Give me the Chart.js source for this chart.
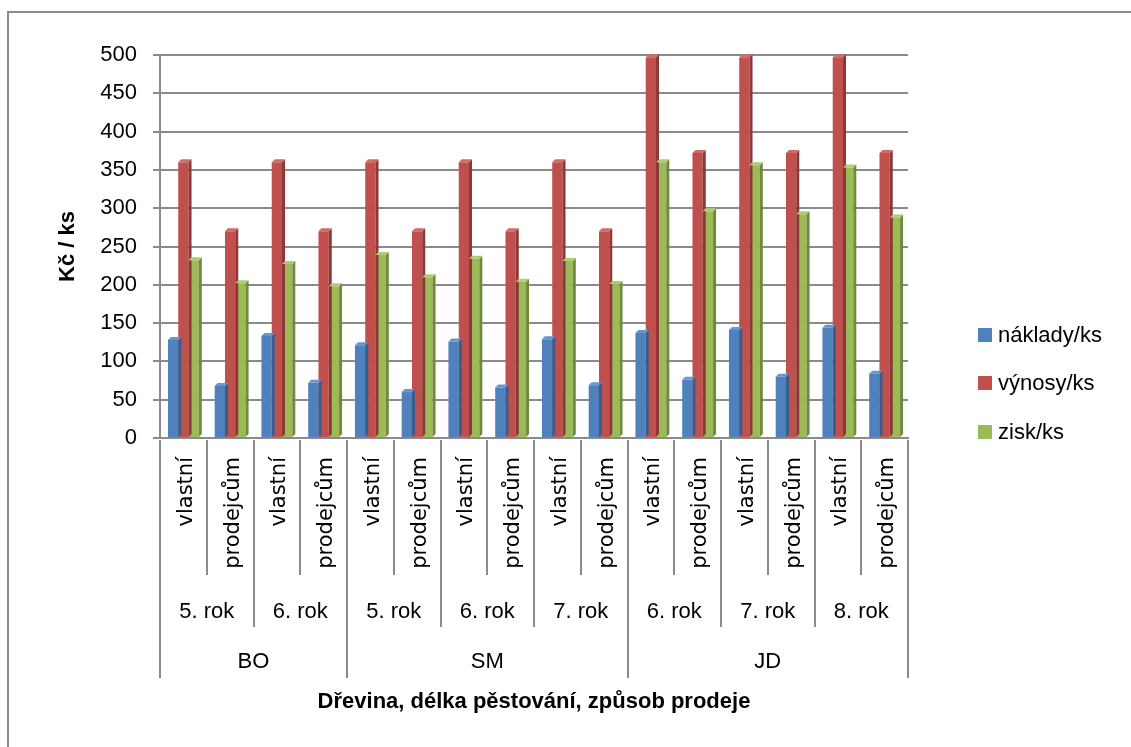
<!DOCTYPE html>
<html>
<head>
<meta charset="utf-8">
<script src="https://cdn.jsdelivr.net/npm/chart.js@4/dist/chart.umd.min.js"></script>
<style>
  html, body { margin: 0; padding: 0; background: #fff; overflow: hidden; }
  #wrap { position: relative; width: 1131px; height: 747px; }
  #frame { position: absolute; left: 7px; top: 11px; width: 1300px; height: 900px; border: 2px solid #8a8a8a; }
  canvas { position: absolute; left: 0; top: 0; }
</style>
</head>
<body>
<div id="wrap">
  <div id="frame"></div>
  <canvas id="chart" width="1131" height="747"></canvas>
</div>
<script>
const methods = ["vlastní","prodejcům","vlastní","prodejcům","vlastní","prodejcům","vlastní","prodejcům",
                 "vlastní","prodejcům","vlastní","prodejcům","vlastní","prodejcům","vlastní","prodejcům"];
const years = ["5. rok","6. rok","5. rok","6. rok","7. rok","6. rok","7. rok","8. rok"];
const species = ["BO","SM","JD"];
const speciesSpan = [4, 6, 6];

const naklady = [128, 68, 133, 72, 121, 60, 126, 66, 129, 69, 137, 76, 141, 80, 144, 84];
const vynosy  = [360, 270, 360, 270, 360, 270, 360, 270, 360, 270, 497, 372, 497, 372, 497, 372];
const zisk    = [232, 202, 227, 198, 239, 210, 234, 204, 231, 201, 360, 296, 356, 292, 353, 288];

const seriesNames = ["náklady/ks", "výnosy/ks", "zisk/ks"];
const colors = ["#4F81BD", "#C0504D", "#9BBB59"];
const sideColors = ["#385D8A", "#8C3836", "#71893F"];
const topColors = ["#6A95CC", "#D06B68", "#B0CC72"];

const yTicks = [0, 50, 100, 150, 200, 250, 300, 350, 400, 450, 500];
const xTitle = "Dřevina, délka pěstování, způsob prodeje";
const yTitle = "Kč / ks";

const GRID = "#8a8a8a";
const TXT = "#000";
const FONT = "'Liberation Sans', Arial, sans-serif";

// fake 3D depth on every bar
const bars3d = {
  id: "bars3d",
  afterDatasetsDraw(chart) {
    const ctx = chart.ctx, d = 3;
    chart.data.datasets.forEach((ds, di) => {
      chart.getDatasetMeta(di).data.forEach(b => {
        const l = b.x - b.width / 2, r = b.x + b.width / 2;
        ctx.save();
        ctx.fillStyle = sideColors[di];
        ctx.beginPath();
        ctx.moveTo(r, b.y); ctx.lineTo(r + d, b.y - d);
        ctx.lineTo(r + d, b.base - d); ctx.lineTo(r, b.base);
        ctx.closePath(); ctx.fill();
        ctx.fillStyle = topColors[di];
        ctx.beginPath();
        ctx.moveTo(l, b.y); ctx.lineTo(l + d, b.y - d);
        ctx.lineTo(r + d, b.y - d); ctx.lineTo(r, b.y);
        ctx.closePath(); ctx.fill();
        ctx.restore();
      });
    });
  }
};

// multi-level category axis, titles and legend
const extras = {
  id: "extras",
  afterDraw(chart) {
    const ctx = chart.ctx, xs = chart.scales.x, area = chart.chartArea;
    const step = xs.getPixelForValue(1) - xs.getPixelForValue(0);
    const edge = i => xs.getPixelForValue(i) - step / 2;
    const base = area.bottom + 2;
    const spBounds = [0];
    speciesSpan.forEach(s => spBounds.push(spBounds[spBounds.length - 1] + s));

    ctx.save();
    ctx.strokeStyle = GRID;
    ctx.lineWidth = 2;
    for (let i = 0; i <= methods.length; i++) {
      let end = 575;
      if (spBounds.includes(i)) end = 678;
      else if (i % 2 === 0) end = 627;
      const x = Math.round(edge(i));
      ctx.beginPath(); ctx.moveTo(x, base); ctx.lineTo(x, end); ctx.stroke();
    }

    ctx.fillStyle = TXT;
    // level 1: rotated methods
    ctx.font = "21px 'DejaVu Sans', sans-serif";
    ctx.textAlign = "right";
    ctx.textBaseline = "middle";
    methods.forEach((m, i) => {
      ctx.save();
      ctx.translate(xs.getPixelForValue(i) + 3, 457);
      ctx.rotate(-Math.PI / 2);
      ctx.fillText(m, 0, 0);
      ctx.restore();
    });

    // level 2: years
    ctx.font = "22px " + FONT;
    ctx.textAlign = "center";
    years.forEach((y, i) => {
      ctx.fillText(y, (edge(i * 2) + edge(i * 2 + 2)) / 2, 612);
    });
    // level 3: species
    species.forEach((s, i) => {
      ctx.fillText(s, (edge(spBounds[i]) + edge(spBounds[i + 1])) / 2, 662);
    });

    // axis titles
    ctx.font = "bold 22px " + FONT;
    ctx.fillText(xTitle, (area.left + area.right) / 2, 702);
    ctx.save();
    ctx.translate(68, (area.top + area.bottom) / 2);
    ctx.rotate(-Math.PI / 2);
    ctx.fillText(yTitle, 0, 0);
    ctx.restore();

    // legend
    ctx.font = "22px " + FONT;
    ctx.textAlign = "left";
    const ly = [335, 383, 432];
    seriesNames.forEach((n, i) => {
      ctx.fillStyle = colors[i];
      ctx.fillRect(978, ly[i] - 7, 14, 14);
      ctx.fillStyle = TXT;
      ctx.fillText(n, 998, ly[i] + 1);
    });
    ctx.restore();
  }
};

new Chart(document.getElementById("chart"), {
  type: "bar",
  data: {
    labels: methods,
    datasets: [
      { label: seriesNames[0], data: naklady, backgroundColor: colors[0] },
      { label: seriesNames[1], data: vynosy, backgroundColor: colors[1] },
      { label: seriesNames[2], data: zisk, backgroundColor: colors[2] }
    ]
  },
  options: {
    responsive: false,
    animation: false,
    layout: { padding: { left: 0, right: 223, top: 55, bottom: 0 } },
    datasets: { bar: { categoryPercentage: 0.66, barPercentage: 1 } },
    plugins: { legend: { display: false }, tooltip: { enabled: false } },
    scales: {
      x: {
        ticks: { display: false },
        grid: { display: false },
        border: { color: GRID, width: 2 },
        afterFit: s => { s.height = 309; }
      },
      y: {
        min: 0, max: 500,
        afterBuildTicks: s => { s.ticks = yTicks.map(v => ({ value: v })); },
        ticks: { color: TXT, font: { size: 22, family: FONT }, padding: 16 },
        grid: { color: GRID, lineWidth: 2, tickLength: 7 },
        border: { color: GRID, width: 2 },
        afterFit: s => { s.width = 160; }
      }
    }
  },
  plugins: [bars3d, extras]
});
</script>
</body>
</html>
